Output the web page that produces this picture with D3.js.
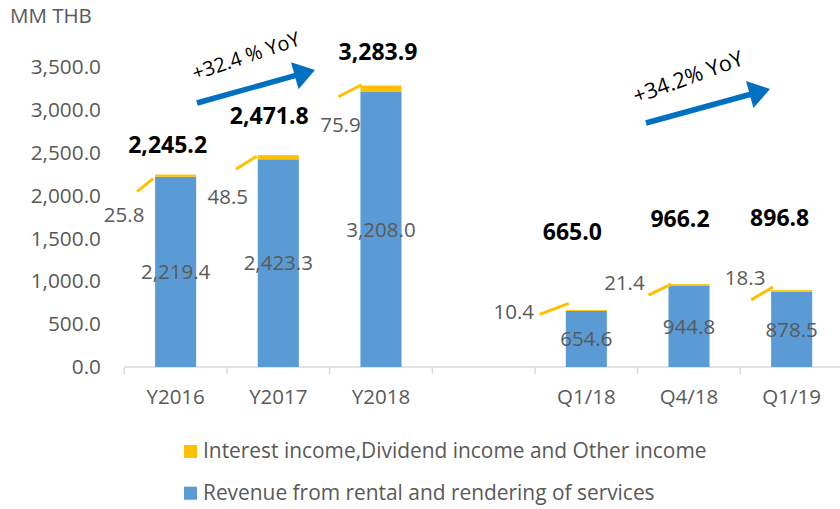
<!DOCTYPE html>
<html>
<head>
<meta charset="utf-8">
<script src="https://cdn.jsdelivr.net/npm/d3@7"></script>
<style>
  body { margin: 0; background: #fff; }
  text { font-family: "Open Sans", sans-serif; }
</style>
</head>
<body>
<div id="chart"></div>
<script>
// categories (blank one is the gap between years and quarters)
var categories = ["Y2016", "Y2017", "Y2018", "", "Q1/18", "Q4/18", "Q1/19"];
var revenue    = [2219.4, 2423.3, 3208.0, null, 654.6, 944.8, 878.5];
var otherInc   = [25.8, 48.5, 75.9, null, 10.4, 21.4, 18.3];
var totals     = [2245.2, 2471.8, 3283.9, null, 665.0, 966.2, 896.8];
var yTicks     = [0, 500, 1000, 1500, 2000, 2500, 3000, 3500];
var seriesNames = ["Interest income,Dividend income and Other income",
                   "Revenue from rental and rendering of services"];

// label placement (pixels, relative to bar)
var totalOffsets  = [[-8, -30], [-9, -39], [-3, -34], null, [-14, -78], [-9, -65], [-12, -72]];
var smallOffsets  = [[-31, 39], [-30, 40], [-20, 36], null, [-52, 1], [-44, -2], [-26, -13]];
var leaderOffsets = [[-18, 16, -2, 3], [-22, 12, -1, -1], [-22, 8, 1, -4], null,
                     [-26, 4, 3, -7], [-20, 10, 3, -1], [-20, 9, 2, -4]];

var W = 840, H = 509;
var gray = "#595959", blue = "#5B9BD5", yellow = "#FFC000", arrowBlue = "#0070C0";

var svg = d3.select("#chart").append("svg")
    .attr("width", W)
    .attr("height", H);

var x = d3.scaleBand()
  .domain(categories)
  .range([124.3, 843])
  .padding(0);

var y = d3.scaleLinear()
  .domain([0, 3500])
  .range([367, 67]);

var barW = x.bandwidth() * 0.4;
var barX = function(i) { return x(categories[i]) + (x.bandwidth() - barW) / 2; };

// unit label
svg.append("text")
  .attr("x", 10).attr("y", 23)
  .attr("font-size", 20.5).attr("fill", gray)
  .text("MM THB");

// Y axis
var yAxis = svg.append("g")
  .attr("transform", "translate(101,0)")
  .call(d3.axisLeft(y).tickValues(yTicks).tickFormat(d3.format(",.1f")).tickSize(0).tickPadding(0));
yAxis.select(".domain").remove();
yAxis.selectAll("text").attr("font-size", 20.8).attr("fill", gray).style("font-family", "Open Sans");

// X axis
var xAxis = svg.append("g").attr("transform", "translate(0," + y(0) + ")");
xAxis.append("line")
  .attr("x1", 124.3).attr("x2", W)
  .attr("stroke", "#D9D9D9").attr("stroke-width", 1.5);
xAxis.selectAll(".tk")
  .data(categories)
  .enter().append("line")
    .attr("x1", function(d) { return x(d); })
    .attr("x2", function(d) { return x(d); })
    .attr("y1", 0).attr("y2", 7)
    .attr("stroke", "#D9D9D9").attr("stroke-width", 1.5);
xAxis.selectAll(".lbl")
  .data(categories)
  .enter().append("text")
    .attr("x", function(d) { return x(d) + x.bandwidth() / 2; })
    .attr("y", 37)
    .attr("text-anchor", "middle")
    .attr("font-size", 20.5).attr("fill", gray)
    .text(function(d) { return d; });

var idx = d3.range(categories.length).filter(function(i) { return revenue[i] != null; });

// Bars
svg.selectAll(".blue")
  .data(idx)
  .enter().append("rect")
    .attr("x", barX)
    .attr("width", barW)
    .attr("y", function(i) { return y(revenue[i]); })
    .attr("height", function(i) { return y(0) - y(revenue[i]); })
    .attr("fill", blue);

svg.selectAll(".yellow")
  .data(idx)
  .enter().append("rect")
    .attr("x", barX)
    .attr("width", barW)
    .attr("y", function(i) { return y(revenue[i] + otherInc[i]); })
    .attr("height", function(i) { return y(revenue[i]) - y(revenue[i] + otherInc[i]); })
    .attr("fill", yellow);

// revenue labels
svg.selectAll(".revLbl")
  .data(idx)
  .enter().append("text")
    .attr("x", function(i) { return barX(i) + barW / 2; })
    .attr("y", function(i) { return (y(0) + y(revenue[i])) / 2; })
    .attr("dy", "0.35em")
    .attr("text-anchor", "middle")
    .attr("font-size", 20.5).attr("fill", gray)
    .text(function(i) { return d3.format(",.1f")(revenue[i]); });

// other income labels with leader lines
var ymid = function(i) { return y(revenue[i] + otherInc[i] / 2); };
svg.selectAll(".leader")
  .data(idx)
  .enter().append("line")
    .attr("x1", function(i) { return barX(i) + leaderOffsets[i][0]; })
    .attr("y1", function(i) { return ymid(i) + leaderOffsets[i][1]; })
    .attr("x2", function(i) { return barX(i) + leaderOffsets[i][2]; })
    .attr("y2", function(i) { return ymid(i) + leaderOffsets[i][3]; })
    .attr("stroke", yellow).attr("stroke-width", 3);

svg.selectAll(".smallLbl")
  .data(idx)
  .enter().append("text")
    .attr("x", function(i) { return barX(i) + smallOffsets[i][0]; })
    .attr("y", function(i) { return ymid(i) + smallOffsets[i][1]; })
    .attr("dy", "0.35em")
    .attr("text-anchor", "middle")
    .attr("font-size", 20.5).attr("fill", gray)
    .text(function(i) { return d3.format(",.1f")(otherInc[i]); });

// totals
svg.selectAll(".totLbl")
  .data(idx)
  .enter().append("text")
    .attr("x", function(i) { return barX(i) + barW / 2 + totalOffsets[i][0]; })
    .attr("y", function(i) { return y(totals[i]) + totalOffsets[i][1]; })
    .attr("dy", "0.35em")
    .attr("text-anchor", "middle")
    .attr("font-size", 23).attr("font-weight", "bold").attr("fill", "#000")
    .text(function(i) { return d3.format(",.1f")(totals[i]); });

// growth arrows
function arrow(x0, y0, x1, y1) {
  var a = Math.atan2(y1 - y0, x1 - x0), hl = 21, hw = 14;
  var bx = x1 - hl * Math.cos(a), by = y1 - hl * Math.sin(a);
  svg.append("line")
    .attr("x1", x0).attr("y1", y0).attr("x2", bx + 2 * Math.cos(a)).attr("y2", by + 2 * Math.sin(a))
    .attr("stroke", arrowBlue).attr("stroke-width", 5.5);
  svg.append("polygon")
    .attr("points", [[x1, y1],
      [bx + hw * Math.sin(a), by - hw * Math.cos(a)],
      [bx - hw * Math.sin(a), by + hw * Math.cos(a)]].join(" "))
    .attr("fill", arrowBlue);
}
arrow(197, 103, 315, 70);
arrow(646, 123, 770, 89);

svg.append("text")
  .attr("transform", "translate(246,56) rotate(-18.5)")
  .attr("text-anchor", "middle").attr("dy", "0.35em")
  .attr("font-size", 20).attr("fill", "#000")
  .text("+32.4 % YoY");
svg.append("text")
  .attr("transform", "translate(688,77) rotate(-20)")
  .attr("text-anchor", "middle").attr("dy", "0.35em")
  .attr("font-size", 21.5).attr("fill", "#000")
  .text("+34.2% YoY");

// Legend
var legend = svg.selectAll(".legend")
  .data(seriesNames)
  .enter().append("g")
    .attr("transform", function(d, i) { return "translate(184," + (445 + i * 41.7) + ")"; });
legend.append("rect")
  .attr("width", 13).attr("height", 13)
  .attr("fill", function(d, i) { return i === 0 ? yellow : blue; });
legend.append("text")
  .attr("x", 19).attr("y", 13)
  .attr("font-size", 20.9).attr("fill", gray)
  .text(function(d) { return d; });
</script>
</body>
</html>
